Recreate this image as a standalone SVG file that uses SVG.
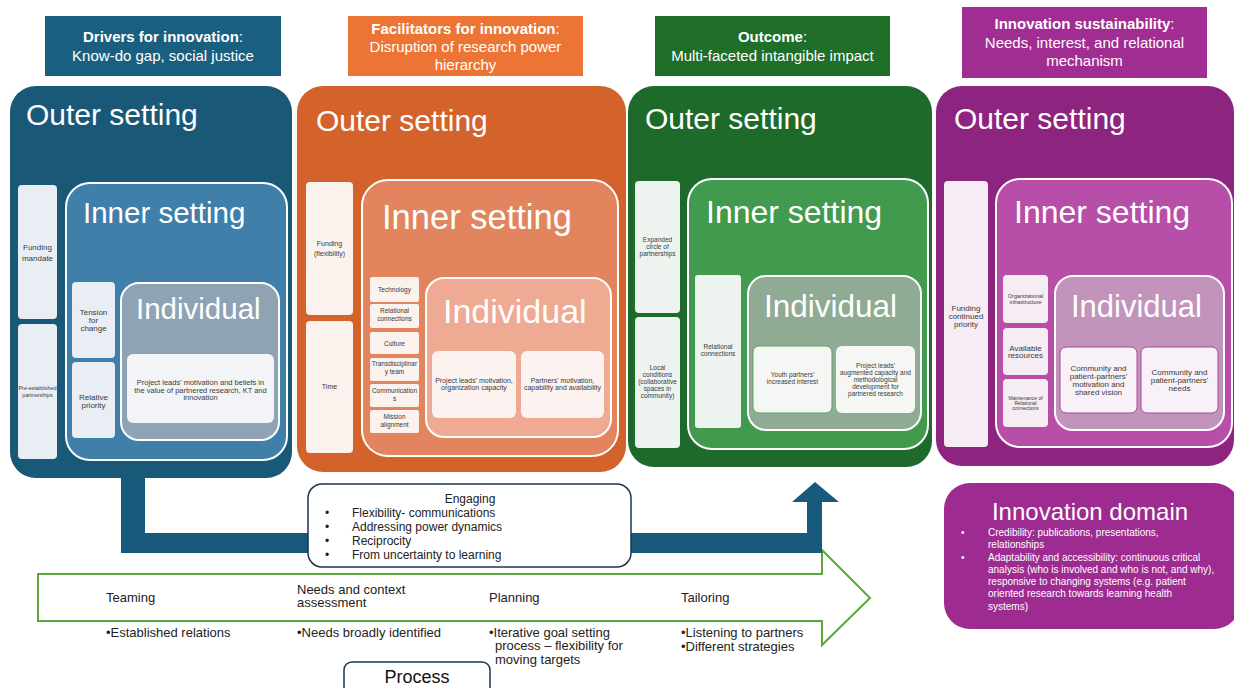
<svg xmlns="http://www.w3.org/2000/svg" width="1234" height="688" viewBox="0 0 1234 688">
<style>
text{font-family:"Liberation Sans",Arial,Helvetica,sans-serif}
.hdr{fill:#fff;font-size:15px;text-anchor:middle}
.outer{fill:#fff;font-size:30px}
.wt{fill:#fff}
.inset{stroke:#fff;stroke-width:2}
.sm{fill:#3a3a3a;text-anchor:middle}
.proc{fill:#222;font-size:13px}
.eng{fill:#222;font-size:12px}
.dom{fill:#fff;font-size:10px}
</style>

<!-- Headers -->
<g id="hdr-drivers">
<rect x="45" y="16" width="236" height="60" fill="#1b5f80"/>
<text class="hdr" x="163" y="42"><tspan font-weight="bold">Drivers for innovation</tspan>:</text>
<text class="hdr" x="163" y="61">Know-do gap, social justice</text>
</g>
<g id="hdr-facilitators">
<rect x="348" y="16" width="235" height="60" fill="#ec7535"/>
<text class="hdr" x="465.5" y="34"><tspan font-weight="bold">Facilitators for innovation</tspan>:</text>
<text class="hdr" x="465.5" y="52">Disruption of research power</text>
<text class="hdr" x="465.5" y="70">hierarchy</text>
</g>
<g id="hdr-outcome">
<rect x="655" y="16" width="235" height="60" fill="#1f6e29"/>
<text class="hdr" x="772.5" y="42"><tspan font-weight="bold">Outcome</tspan>:</text>
<text class="hdr" x="772.5" y="61">Multi-faceted intangible impact</text>
</g>
<g id="hdr-sustainability">
<rect x="962" y="7" width="245" height="71" fill="#a12d92"/>
<text class="hdr" x="1084.5" y="29"><tspan font-weight="bold">Innovation sustainability</tspan>:</text>
<text class="hdr" x="1084.5" y="48">Needs, interest, and relational</text>
<text class="hdr" x="1084.5" y="66">mechanism</text>
</g>

<!-- Blue panel -->
<g id="panel-blue">
<rect x="10" y="86" width="282" height="392" rx="26" fill="#1a5878"/>
<text class="outer" x="26" y="125" font-size="30">Outer setting</text>
<rect x="18" y="185" width="39" height="134" rx="4" fill="#e8eef3"/>
<text class="sm" font-size="8" x="37.5" y="250">Funding</text>
<text class="sm" font-size="8" x="37.5" y="261">mandate</text>
<rect x="18" y="324" width="39" height="135" rx="4" fill="#e8eef3"/>
<text class="sm" font-size="5.5" x="37.5" y="390">Pre-established</text>
<text class="sm" font-size="5.5" x="37.5" y="397">partnerships</text>
<rect class="inset" x="66" y="183" width="221" height="277" rx="24" fill="#3f7fa9"/>
<text class="wt" x="83" y="223" font-size="29.5">Inner setting</text>
<rect x="72" y="282" width="43" height="76" rx="4" fill="#e8eef3"/>
<text class="sm" font-size="8" x="93.5" y="315">Tension</text>
<text class="sm" font-size="8" x="93.5" y="323">for</text>
<text class="sm" font-size="8" x="93.5" y="331">change</text>
<rect x="72" y="362" width="43" height="76" rx="4" fill="#e8eef3"/>
<text class="sm" font-size="8" x="93.5" y="400">Relative</text>
<text class="sm" font-size="8" x="93.5" y="408">priority</text>
<rect class="inset" x="121" y="283" width="158" height="157" rx="18" fill="#8fa3b4"/>
<text class="wt" x="136" y="319" font-size="29.5">Individual</text>
<rect x="127" y="354" width="147" height="69" rx="6" fill="#f2f4f7"/>
<text class="sm" font-size="7.5" x="200.5" y="385">Project leads' motivation and beliefs in</text>
<text class="sm" font-size="7.5" x="200.5" y="392.5">the value of partnered research, KT and</text>
<text class="sm" font-size="7.5" x="200.5" y="400">innovation</text>
</g>

<!-- Orange panel -->
<g id="panel-orange">
<rect x="297" y="86" width="329" height="386" rx="26" fill="#d4632b"/>
<text class="outer" x="316" y="131" font-size="34.5">Outer setting</text>
<rect x="306" y="182" width="47" height="133" rx="4" fill="#fbf1ed"/>
<text class="sm" font-size="7" x="329.5" y="246">Funding</text>
<text class="sm" font-size="7" x="329.5" y="256">(flexibility)</text>
<rect x="306" y="321" width="47" height="132" rx="4" fill="#fbf1ed"/>
<text class="sm" font-size="7" x="329.5" y="389">Time</text>
<rect class="inset" x="362" y="180" width="256" height="276" rx="26" fill="#e2855f"/>
<text class="wt" x="382" y="229" font-size="34.5">Inner setting</text>
<rect x="370" y="277" width="49" height="25" rx="2" fill="#fbf1ed"/>
<text class="sm" font-size="6.5" x="394.5" y="292">Technology</text>
<rect x="370" y="304" width="49" height="24" rx="2" fill="#fbf1ed"/>
<text class="sm" font-size="6.5" x="394.5" y="313">Relational</text>
<text class="sm" font-size="6.5" x="394.5" y="321">connections</text>
<rect x="370" y="332" width="49" height="22" rx="2" fill="#fbf1ed"/>
<text class="sm" font-size="6.5" x="394.5" y="345.5">Culture</text>
<rect x="370" y="358" width="49" height="23" rx="2" fill="#fbf1ed"/>
<text class="sm" font-size="6.5" x="394.5" y="366">Transdisciplinar</text>
<text class="sm" font-size="6.5" x="394.5" y="374">y team</text>
<rect x="370" y="384" width="49" height="23" rx="2" fill="#fbf1ed"/>
<text class="sm" font-size="6.5" x="394.5" y="393">Communication</text>
<text class="sm" font-size="6.5" x="394.5" y="401">s</text>
<rect x="370" y="410" width="49" height="23" rx="2" fill="#fbf1ed"/>
<text class="sm" font-size="6.5" x="394.5" y="419">Mission</text>
<text class="sm" font-size="6.5" x="394.5" y="427">alignment</text>
<rect class="inset" x="426" y="278" width="185" height="159" rx="18" fill="#eeaa93"/>
<text class="wt" x="443" y="323" font-size="34">Individual</text>
<rect x="432" y="351" width="84" height="67" rx="6" fill="#fcf3f0"/>
<text class="sm" font-size="7" x="474" y="383">Project leads' motivation,</text>
<text class="sm" font-size="7" x="474" y="390">organization capacity</text>
<rect x="521" y="351" width="83" height="67" rx="6" fill="#fcf3f0"/>
<text class="sm" font-size="7" x="562.5" y="383">Partners' motivation,</text>
<text class="sm" font-size="7" x="562.5" y="390">capability and availability</text>
</g>

<!-- Green panel -->
<g id="panel-green">
<rect x="628" y="86" width="304" height="381" rx="26" fill="#1e6a2b"/>
<text class="outer" x="645" y="129" font-size="32">Outer setting</text>
<rect x="635" y="181" width="45" height="132" rx="4" fill="#edf3ee"/>
<text class="sm" font-size="6.5" x="657.5" y="242">Expanded</text>
<text class="sm" font-size="6.5" x="657.5" y="249">circle of</text>
<text class="sm" font-size="6.5" x="657.5" y="256">partnerships</text>
<rect x="635" y="317" width="45" height="131" rx="4" fill="#edf3ee"/>
<text class="sm" font-size="6.5" x="657.5" y="370">Local</text>
<text class="sm" font-size="6.5" x="657.5" y="377">conditions</text>
<text class="sm" font-size="6.5" x="657.5" y="384">(collaborative</text>
<text class="sm" font-size="6.5" x="657.5" y="391">spaces in</text>
<text class="sm" font-size="6.5" x="657.5" y="398">community)</text>
<rect class="inset" x="688" y="179" width="240" height="270" rx="24" fill="#429a4e"/>
<text class="wt" x="706" y="223" font-size="32">Inner setting</text>
<rect x="695" y="275" width="46" height="153" rx="3" fill="#edf3ee"/>
<text class="sm" font-size="6.5" x="718" y="349">Relational</text>
<text class="sm" font-size="6.5" x="718" y="356">connections</text>
<rect class="inset" x="748" y="276" width="173" height="154" rx="18" fill="#8fab93"/>
<text class="wt" x="764" y="317" font-size="31.5">Individual</text>
<rect x="753" y="346" width="79" height="67" rx="6" fill="#f4f7f4" stroke="#5aa463" stroke-width="1"/>
<text class="sm" font-size="6.5" x="792.5" y="377">Youth partners'</text>
<text class="sm" font-size="6.5" x="792.5" y="384">increased interest</text>
<rect x="836" y="346" width="79" height="67" rx="6" fill="#f4f7f4"/>
<text class="sm" font-size="6.5" x="875.5" y="368">Project leads'</text>
<text class="sm" font-size="6.5" x="875.5" y="375">augmented capacity and</text>
<text class="sm" font-size="6.5" x="875.5" y="382">methodological</text>
<text class="sm" font-size="6.5" x="875.5" y="389">development for</text>
<text class="sm" font-size="6.5" x="875.5" y="396">partnered research</text>
</g>

<!-- Purple panel -->
<g id="panel-purple">
<rect x="936" y="86" width="298" height="380" rx="26" fill="#8d2480"/>
<text class="outer" x="954" y="129" font-size="32">Outer setting</text>
<rect x="944" y="181" width="44" height="266" rx="4" fill="#f5ecf4"/>
<text class="sm" font-size="8" x="966" y="311">Funding</text>
<text class="sm" font-size="8" x="966" y="319">continued</text>
<text class="sm" font-size="8" x="966" y="327">priority</text>
<rect class="inset" x="996" y="179" width="236" height="268" rx="24" fill="#b74ea8"/>
<text class="wt" x="1014" y="223" font-size="32">Inner setting</text>
<rect x="1003" y="275" width="45" height="48" rx="4" fill="#f5ecf4"/>
<text class="sm" font-size="5.5" x="1025.5" y="298">Organizational</text>
<text class="sm" font-size="5.5" x="1025.5" y="304">infrastructure</text>
<rect x="1003" y="328" width="45" height="47" rx="4" fill="#f5ecf4"/>
<text class="sm" font-size="8" x="1025.5" y="351">Available</text>
<text class="sm" font-size="8" x="1025.5" y="358">resources</text>
<rect x="1003" y="379" width="45" height="48" rx="4" fill="#f5ecf4"/>
<text class="sm" font-size="5" x="1025.5" y="400">Maintenance of</text>
<text class="sm" font-size="5" x="1025.5" y="405">Relational</text>
<text class="sm" font-size="5" x="1025.5" y="410">connections</text>
<rect class="inset" x="1055" y="276" width="169" height="154" rx="18" fill="#c293bb"/>
<text class="wt" x="1071" y="317" font-size="31">Individual</text>
<rect x="1060" y="347" width="77" height="66" rx="6" fill="#f8f1f7" stroke="#a54a98" stroke-width="1"/>
<text class="sm" font-size="8" x="1098.5" y="371">Community and</text>
<text class="sm" font-size="8" x="1098.5" y="379">patient-partners'</text>
<text class="sm" font-size="8" x="1098.5" y="387">motivation and</text>
<text class="sm" font-size="8" x="1098.5" y="395">shared vision</text>
<rect x="1141" y="347" width="77" height="66" rx="6" fill="#f8f1f7" stroke="#a54a98" stroke-width="1"/>
<text class="sm" font-size="8" x="1179.5" y="375">Community and</text>
<text class="sm" font-size="8" x="1179.5" y="383">patient-partners'</text>
<text class="sm" font-size="8" x="1179.5" y="391">needs</text>
</g>

<!-- Innovation domain -->
<g id="innovation-domain">
<rect x="944" y="483" width="296" height="146" rx="26" fill="#9e2b8f"/>
<text class="wt" x="1090" y="520" font-size="24" text-anchor="middle">Innovation domain</text>
<text class="dom" x="961" y="536">•</text>
<text class="dom" x="988" y="536">Credibility: publications, presentations,</text>
<text class="dom" x="988" y="548">relationships</text>
<text class="dom" x="961" y="561">•</text>
<text class="dom" x="988" y="561">Adaptability and accessibility: continuous critical</text>
<text class="dom" x="988" y="573">analysis (who is involved and who is not, and why),</text>
<text class="dom" x="988" y="585">responsive to changing systems (e.g. patient</text>
<text class="dom" x="988" y="597">oriented research towards learning health</text>
<text class="dom" x="988" y="610">systems)</text>
</g>

<!-- Process arrow -->
<g id="process-arrow">
<polygon points="38,574 822,574 822,550 870,598 822,645 822,621 38,621" fill="#fff" stroke="#5aa83c" stroke-width="2"/>
<text class="proc" x="106" y="602">Teaming</text>
<text class="proc" x="297" y="594">Needs and context</text>
<text class="proc" x="297" y="607">assessment</text>
<text class="proc" x="489" y="602">Planning</text>
<text class="proc" x="681" y="602">Tailoring</text>
</g>

<!-- Connectors -->
<g id="connectors">
<polygon points="121,476 145,476 145,533 807,533 807,502 792,502 815,482 839,502 822,502 822,553 121,553" fill="#175a7c"/>
</g>

<!-- Engaging box -->
<g id="engaging">
<rect x="308" y="484" width="323" height="83" rx="14" fill="#fff" stroke="#1b3550" stroke-width="1.5"/>
<text class="eng" x="470" y="503" text-anchor="middle">Engaging</text>
<text class="eng" x="325" y="517">•</text>
<text class="eng" x="352" y="517">Flexibility- communications</text>
<text class="eng" x="325" y="531">•</text>
<text class="eng" x="352" y="531">Addressing power dynamics</text>
<text class="eng" x="325" y="545">•</text>
<text class="eng" x="352" y="545">Reciprocity</text>
<text class="eng" x="325" y="559">•</text>
<text class="eng" x="352" y="559">From uncertainty to learning</text>
</g>

<!-- Process details -->
<g id="process-details">
<text class="proc" x="106" y="637">•Established relations</text>
<text class="proc" x="297" y="637">•Needs broadly identified</text>
<text class="proc" x="489" y="637">•Iterative goal setting</text>
<text class="proc" x="495" y="650">process – flexibility for</text>
<text class="proc" x="495" y="664">moving targets</text>
<text class="proc" x="681" y="637">•Listening to partners</text>
<text class="proc" x="681" y="651">•Different strategies</text>
</g>

<g id="process-label">
<rect x="344" y="662" width="146" height="40" rx="8" fill="#fff" stroke="#1b3550" stroke-width="1.5"/>
<text x="417" y="683" font-size="18" fill="#111" text-anchor="middle">Process</text>
</g>
</svg>
